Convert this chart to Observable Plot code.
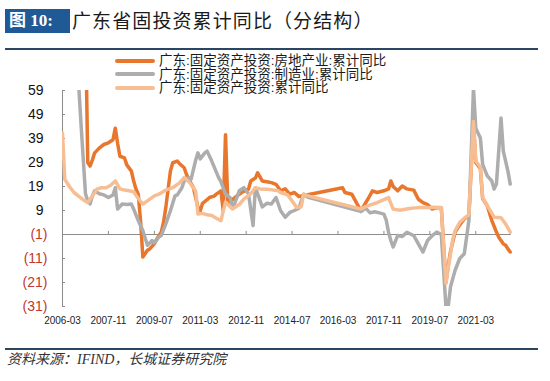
<!DOCTYPE html>
<html>
<head>
<meta charset="utf-8">
<script src="https://cdn.jsdelivr.net/npm/d3@7"></script>
<script src="https://cdn.jsdelivr.net/npm/@observablehq/plot@0.6"></script>
<style>
  html, body { margin: 0; padding: 0; background: #fff; }
  #wrap { position: relative; width: 550px; height: 381px; overflow: hidden; font-family: "Liberation Sans", Arial, "Noto Sans CJK SC", sans-serif; }
  #tbox { position: absolute; left: 5px; top: 9px; width: 65px; height: 24px; background: #1f5a96; color: #fff;
          font-family: "Liberation Serif", "Noto Sans CJK SC", serif; font-weight: bold; font-size: 17px; line-height: 24px; padding-left: 4px; box-sizing: border-box; }
  #ttext { position: absolute; left: 72px; top: 7px; font-family: "Noto Sans CJK SC", sans-serif; font-size: 19px; line-height: 26px; color: #1a1a1a; letter-spacing: 1.1px; }
  .hr { position: absolute; left: 5px; width: 533px; height: 2px; background: #2b4565; }
  #chart { position: absolute; left: 0; top: 50px; }
  #legend { position: absolute; left: 115px; top: 54px; font-family: "Liberation Sans", Arial, "Noto Sans CJK SC", sans-serif; font-size: 13.5px; color: #1a1a1a; }
  .lrow { height: 13.6px; line-height: 13.6px; display: flex; align-items: center; white-space: nowrap; }
  .lsw { width: 40px; height: 4px; border-radius: 2px; margin-right: 4px; }
  #foot { position: absolute; left: 7px; top: 351px; font-family: "Liberation Serif", "Noto Sans CJK SC", serif; font-style: italic; font-size: 14px; color: #333; line-height: 18px; }
</style>
</head>
<body>
<div id="wrap">
  <div id="tbox">图 10:</div>
  <div id="ttext">广东省固投资累计同比（分结构）</div>
  <div class="hr" style="top:48px"></div>
  <div id="chart"></div>
  <div id="legend"></div>
  <div class="hr" style="top:348px"></div>
  <div id="foot">资料来源：IFIND，长城证券研究院</div>
</div>
<script>
const seriesNames = ["广东:固定资产投资:房地产业:累计同比", "广东:固定资产投资:制造业:累计同比", "广东:固定资产投资:累计同比"];
const seriesColors = ["#E8762C", "#ADADAD", "#F8BE93"];

const xTickLabels = ["2006-03","2007-11","2009-07","2011-03","2012-11","2014-07","2016-03","2017-11","2019-07","2021-03"];
const yTicksPos = [59, 49, 39, 29, 19, 9];
const yTicksNeg = [-1, -11, -21, -31];

// 房地产业 累计同比
const realEstate = [
 ["2006-03",90],["2006-07",90],["2006-12",90],["2007-01",90],["2007-02",29],["2007-03",27.5],["2007-04",30],["2007-05",33],
 ["2007-07",35],["2007-09",36.5],["2007-11",37.2],["2008-01",38.5],["2008-02",43.3],["2008-03",37],["2008-04",31.6],["2008-06",30.9],
 ["2008-07",28],["2008-09",25.4],["2008-10",21.3],["2008-11",18],["2008-12",15.8],["2009-01",4.8],["2009-02",-10.4],["2009-04",-7.6],
 ["2009-05",-7],["2009-07",-4.9],["2009-08",-3],["2009-10",0],["2009-11",4],["2009-12",10.3],["2010-02",25.4],["2010-03",28.9],
 ["2010-05",29.6],["2010-06",28.5],["2010-08",26.8],["2010-09",24],["2010-10",22],["2010-12",18.5],["2011-02",10.3],["2011-03",8.9],
 ["2011-04",12],["2011-06",13.5],["2011-07",14.4],["2011-09",15],["2011-10",15.8],["2011-12",17.2],["2012-01",9],["2012-02",40.6],
 ["2012-03",11.7],["2012-05",13.5],["2012-07",15.1],["2012-09",16.5],["2012-12",17.9],["2013-01",21.3],["2013-03",22.5],["2013-04",24.7],
 ["2013-05",23],["2013-06",21.3],["2013-08",21],["2013-10",20.6],["2013-12",19.9],["2014-02",17.2],["2014-04",18],["2014-06",15.8],
 ["2014-08",16.5],["2014-10",14.8],["2016-05",18.5],["2016-06",16.5],["2016-09",15.8],["2016-11",12.3],["2017-01",8.9],["2017-04",13.7],
 ["2017-06",17.2],["2017-08",16.5],["2017-11",17.2],["2018-01",18],["2018-02",21.3],["2018-03",19],["2018-05",17.2],["2018-07",19.2],
 ["2018-09",18],["2018-12",17.5],["2019-02",13.7],["2019-04",12.3],["2019-06",11.5],["2019-08",9.6],["2019-10",10.2],["2019-12",10],
 ["2020-02",-21],["2020-03",-14],["2020-04",-8],["2020-06",0],["2020-08",3],["2020-10",5.5],["2020-12",7],["2021-02",46],
 ["2021-03",29],["2021-05",26.5],["2021-06",14],["2021-08",11],["2021-10",4.8],["2021-12",0],["2022-01",-2.1],["2022-03",-4.9],
 ["2022-04",-5.5],["2022-05",-7],["2022-06",-8.3]
];

// 制造业 累计同比
const manufacturing = [
 ["2006-03",150],["2006-06",120],["2006-09",78],["2006-10",62],["2006-11",46],["2006-12",31],["2007-01",16],["2007-02",13],
 ["2007-03",11.7],["2007-04",15],["2007-05",17.2],["2007-07",16],["2007-09",15.5],["2007-11",14.4],["2008-01",15.5],["2008-02",18.5],
 ["2008-03",9.6],["2008-05",11.7],["2008-07",11.5],["2008-09",11.7],["2008-10",9.6],["2008-12",4.8],["2009-02",0.6],["2009-04",-5.5],
 ["2009-06",-3.5],["2009-07",-4.5],["2009-09",-2],["2009-10",-1.4],["2009-12",3.4],["2010-02",8.9],["2010-04",15.1],["2010-05",15.5],
 ["2010-07",18.5],["2010-08",21.3],["2010-10",22.7],["2010-11",22],["2011-01",30],["2011-02",33],["2011-03",30.5],["2011-05",33],
 ["2011-06",33.7],["2011-08",29.6],["2011-10",25],["2011-11",22.7],["2011-12",21],["2012-02",15.8],["2012-04",14.4],["2012-05",10.3],
 ["2012-06",12],["2012-08",17.2],["2012-10",18.5],["2012-12",16],["2013-02",2.7],["2013-03",18.5],["2013-04",16],["2013-06",10.5],
 ["2013-08",12],["2013-10",11.7],["2013-12",14.4],["2014-02",8.9],["2014-04",6.2],["2014-06",8.2],["2014-08",9],["2014-10",10],
 ["2014-12",15.8],["2015-02",14.5],["2016-12",8.9],["2017-01",8.5],["2017-03",10],["2017-05",8],["2017-07",8.5],["2017-09",8],
 ["2017-11",7.5],["2017-12",5],["2018-01",0],["2018-02",-3.5],["2018-03",-6.2],["2018-05",-1.4],["2018-07",-1.8],["2018-09",-0.1],
 ["2018-11",-1],["2018-12",-1.5],["2019-02",-4.9],["2019-04",-8.3],["2019-06",-3.5],["2019-08",-1.5],["2019-10",0],["2019-12",-1],
 ["2020-02",-31],["2020-03",-31],["2020-04",-22.8],["2020-06",-15.9],["2020-08",-11],["2020-10",-9],["2020-11",-2.1],["2020-12",4.8],
 ["2021-02",60],["2021-03",43.3],["2021-05",39.2],["2021-06",28.2],["2021-08",23.4],["2021-10",21.3],["2021-11",17.9],["2021-12",20],
 ["2022-02",47.5],["2022-03",33.7],["2022-05",25.4],["2022-06",20]
];

// 固定资产投资 累计同比
const total = [
 ["2006-03",41.3],["2006-04",22],["2006-06",19],["2006-08",16.5],["2006-10",15],["2006-12",13.5],["2007-02",12.3],["2007-04",15],
 ["2007-06",17.9],["2007-08",18.5],["2007-10",18.5],["2007-12",19.5],["2008-02",21.3],["2008-04",18],["2008-06",17.5],["2008-08",17.2],
 ["2008-10",16.8],["2008-12",14],["2009-02",11.7],["2009-04",13],["2009-07",15.1],["2009-09",15.8],["2009-12",17.5],["2010-03",18.5],
 ["2010-06",20.5],["2010-08",22.7],["2010-10",21],["2010-11",19.9],["2011-01",17],["2011-02",7.5],["2011-04",7.8],["2011-06",7.2],
 ["2011-08",6.9],["2011-10",5.8],["2011-12",4.8],["2012-02",12.5],["2012-05",9.6],["2012-08",11.5],["2012-10",13.7],["2013-01",16],
 ["2013-03",18.5],["2013-05",18],["2013-08",17.9],["2014-01",17.2],["2014-02",16.5],["2014-05",15.5],["2014-07",13],["2014-09",10.3],
 ["2014-11",10.6],["2014-12",15.8],["2015-02",15.1],["2017-01",9.6],["2017-03",10.6],["2017-08",12.3],["2018-01",14.4],["2018-03",9.6],
 ["2018-06",9.1],["2018-10",9.8],["2019-02",10.2],["2019-06",10.2],["2019-08",10.4],["2019-12",10.2],["2020-02",-21.4],["2020-03",-15],
 ["2020-04",-9],["2020-05",-3],["2020-06",0.6],["2020-08",4],["2020-10",5.8],["2020-12",7.2],["2021-02",46.1],["2021-03",29.6],
 ["2021-05",27],["2021-06",14.4],["2021-08",11],["2021-11",6.2],["2022-02",6],["2022-04",3.4],["2022-06",0]
];

// month index from 2006-03
const idx = (s) => { const [y, m] = s.split("-").map(Number); return (y - 2006) * 12 + (m - 3); };
const rows = (arr) => arr.map(([d, v]) => ({m: idx(d), v}));

const xTickPos = xTickLabels.map(idx);
const labelAt = new Map(xTickLabels.map(l => [idx(l), l]));
const axisColor = "#8c8c8c";

const chart = Plot.plot({
  width: 550,
  height: 285,
  marginLeft: 62,
  marginRight: 38,
  marginTop: 40,
  marginBottom: 29,
  x: {domain: [0, 196], axis: null},
  y: {domain: [-31, 59], axis: null},
  style: {fontFamily: "'Liberation Sans', Arial, sans-serif", background: "transparent", overflow: "visible"},
  marks: [
    Plot.ruleY([-1], {x1: 0, x2: 195.5, stroke: axisColor, strokeWidth: 1}),
    Plot.ruleX([0], {y1: -31, y2: 59, stroke: axisColor, strokeWidth: 1}),
    Plot.ruleX(xTickPos.slice(1), {y1: -1, y2: 0.3, stroke: axisColor}),
    Plot.ruleY(yTicksPos.concat(yTicksNeg), {x1: 0, x2: 1.3, stroke: axisColor}),
    Plot.axisX({ticks: xTickPos, tickFormat: d => labelAt.get(d), tickSize: 0, tickPadding: 10, fontSize: 10, fill: "#222", anchor: "bottom", label: null}),
    Plot.axisY({ticks: yTicksPos, tickFormat: d => String(d), tickSize: 0, tickPadding: 19, fontSize: 14, fill: "#111", anchor: "left", label: null}),
    Plot.axisY({ticks: yTicksNeg, tickFormat: d => `(${-d})`, tickSize: 0, tickPadding: 15, fontSize: 14, fill: "#C0392B", anchor: "left", label: null}),
    Plot.line(rows(realEstate), {x: "m", y: "v", stroke: seriesColors[0], strokeWidth: 3.5, strokeLinejoin: "round", clip: true}),
    Plot.line(rows(manufacturing), {x: "m", y: "v", stroke: seriesColors[1], strokeWidth: 3.5, strokeLinejoin: "round", clip: true}),
    Plot.line(rows(total), {x: "m", y: "v", stroke: seriesColors[2], strokeWidth: 3.5, strokeLinejoin: "round", clip: true})
  ]
});
document.getElementById("chart").appendChild(chart);

const legend = document.getElementById("legend");
seriesNames.forEach((n, i) => {
  const r = document.createElement("div");
  r.className = "lrow";
  const sw = document.createElement("span");
  sw.className = "lsw";
  sw.style.background = seriesColors[i];
  const t = document.createElement("span");
  t.textContent = n;
  r.appendChild(sw); r.appendChild(t);
  legend.appendChild(r);
});
</script>
</body>
</html>
